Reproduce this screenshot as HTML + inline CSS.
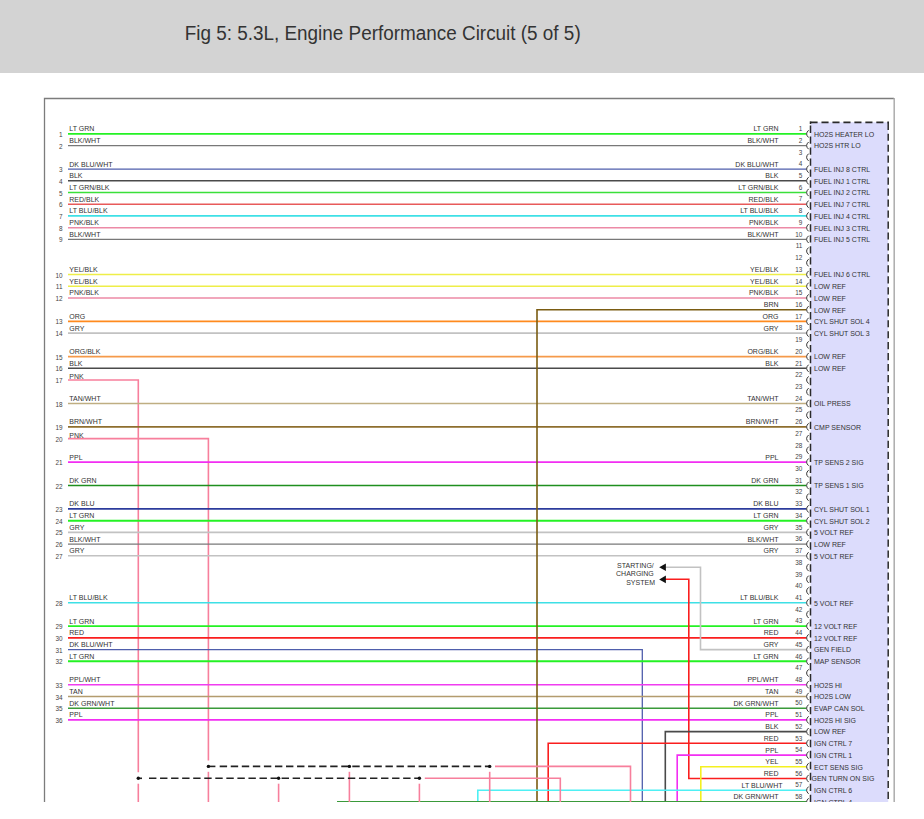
<!DOCTYPE html>
<html><head><meta charset="utf-8">
<style>
html,body{margin:0;padding:0;background:#fff;width:924px;height:819px;overflow:hidden;}
.hdr{position:absolute;left:0;top:0;width:924px;height:73px;background:#d3d3d3;}
.ttl{position:absolute;left:186px;top:20px;font-family:"Liberation Sans",sans-serif;font-size:18.8px;color:#333;white-space:nowrap;}
svg{position:absolute;left:0;top:0;}
svg text{font-family:"Liberation Sans",sans-serif;}
</style></head>
<body>
<div class="hdr"></div>
<svg width="924" height="819" viewBox="0 0 924 819">
<defs><clipPath id="cp"><rect x="0" y="0" width="924" height="802"/></clipPath></defs>
<text x="184.7" y="39.9" font-size="20" fill="#333" textLength="396" lengthAdjust="spacingAndGlyphs">Fig 5: 5.3L, Engine Performance Circuit (5 of 5)</text>
<g clip-path="url(#cp)">
<path d="M44.5,802 V98.5 H894" fill="none" stroke="#7c7c7c" stroke-width="1.3"/>
<line x1="894.2" y1="97.9" x2="894.2" y2="802" stroke="#acacac" stroke-width="1.5"/>
<rect x="810.5" y="122.3" width="77.7" height="700" fill="#dcdcfc"/>
<line x1="810.5" y1="122.3" x2="889" y2="122.3" stroke="#2a2a2a" stroke-width="1.7" stroke-dasharray="7.1,3.87"/>
<line x1="888.2" y1="122.7" x2="888.2" y2="810" stroke="#2a2a2a" stroke-width="1.5" stroke-dasharray="7.2,3.77"/>
<line x1="810.5" y1="125.5" x2="810.5" y2="810" stroke="#2a2a2a" stroke-width="1.5" stroke-dasharray="7.4,3.57"/>
<line x1="810.5" y1="121.4" x2="810.5" y2="124" stroke="#2a2a2a" stroke-width="1.5"/>
<line x1="68.0" y1="133.9" x2="806.3" y2="133.9" stroke="#24f224" stroke-width="1.9"/>
<text x="62.5" y="136.9" text-anchor="end" font-size="6.4" fill="#444">1</text>
<text x="69.3" y="131.3" text-anchor="start" font-size="7" fill="#333">LT GRN</text>
<line x1="68.0" y1="145.6" x2="806.3" y2="145.6" stroke="#787878" stroke-width="1.4"/>
<text x="62.5" y="148.6" text-anchor="end" font-size="6.4" fill="#444">2</text>
<text x="69.3" y="143.0" text-anchor="start" font-size="7" fill="#333">BLK/WHT</text>
<line x1="68.0" y1="169.1" x2="806.3" y2="169.1" stroke="#4f5eac" stroke-width="1.3"/>
<text x="62.5" y="172.1" text-anchor="end" font-size="6.4" fill="#444">3</text>
<text x="69.3" y="166.5" text-anchor="start" font-size="7" fill="#333">DK BLU/WHT</text>
<line x1="68.0" y1="180.8" x2="806.3" y2="180.8" stroke="#4a4a4a" stroke-width="1.5"/>
<text x="62.5" y="183.8" text-anchor="end" font-size="6.4" fill="#444">4</text>
<text x="69.3" y="178.2" text-anchor="start" font-size="7" fill="#333">BLK</text>
<line x1="68.0" y1="192.5" x2="806.3" y2="192.5" stroke="#3ae03a" stroke-width="1.6"/>
<text x="62.5" y="195.5" text-anchor="end" font-size="6.4" fill="#444">5</text>
<text x="69.3" y="189.9" text-anchor="start" font-size="7" fill="#333">LT GRN/BLK</text>
<line x1="68.0" y1="204.2" x2="806.3" y2="204.2" stroke="#e85a5a" stroke-width="1.6"/>
<text x="62.5" y="207.2" text-anchor="end" font-size="6.4" fill="#444">6</text>
<text x="69.3" y="201.6" text-anchor="start" font-size="7" fill="#333">RED/BLK</text>
<line x1="68.0" y1="215.9" x2="806.3" y2="215.9" stroke="#3ee0e6" stroke-width="1.6"/>
<text x="62.5" y="218.9" text-anchor="end" font-size="6.4" fill="#444">7</text>
<text x="69.3" y="213.3" text-anchor="start" font-size="7" fill="#333">LT BLU/BLK</text>
<line x1="68.0" y1="227.7" x2="806.3" y2="227.7" stroke="#ec8aa6" stroke-width="1.6"/>
<text x="62.5" y="230.7" text-anchor="end" font-size="6.4" fill="#444">8</text>
<text x="69.3" y="225.1" text-anchor="start" font-size="7" fill="#333">PNK/BLK</text>
<line x1="68.0" y1="239.4" x2="806.3" y2="239.4" stroke="#787878" stroke-width="1.4"/>
<text x="62.5" y="242.4" text-anchor="end" font-size="6.4" fill="#444">9</text>
<text x="69.3" y="236.8" text-anchor="start" font-size="7" fill="#333">BLK/WHT</text>
<line x1="68.0" y1="274.5" x2="806.3" y2="274.5" stroke="#eeee48" stroke-width="1.6"/>
<text x="62.5" y="277.5" text-anchor="end" font-size="6.4" fill="#444">10</text>
<text x="69.3" y="271.9" text-anchor="start" font-size="7" fill="#333">YEL/BLK</text>
<line x1="68.0" y1="286.3" x2="806.3" y2="286.3" stroke="#eeee48" stroke-width="1.6"/>
<text x="62.5" y="289.3" text-anchor="end" font-size="6.4" fill="#444">11</text>
<text x="69.3" y="283.7" text-anchor="start" font-size="7" fill="#333">YEL/BLK</text>
<line x1="68.0" y1="298.0" x2="806.3" y2="298.0" stroke="#ec8aa6" stroke-width="1.6"/>
<text x="62.5" y="301.0" text-anchor="end" font-size="6.4" fill="#444">12</text>
<text x="69.3" y="295.4" text-anchor="start" font-size="7" fill="#333">PNK/BLK</text>
<line x1="68.0" y1="321.4" x2="806.3" y2="321.4" stroke="#ff8a1e" stroke-width="1.6"/>
<text x="62.5" y="324.4" text-anchor="end" font-size="6.4" fill="#444">13</text>
<text x="69.3" y="318.8" text-anchor="start" font-size="7" fill="#333">ORG</text>
<line x1="68.0" y1="333.1" x2="806.3" y2="333.1" stroke="#c2c2c2" stroke-width="1.6"/>
<text x="62.5" y="336.1" text-anchor="end" font-size="6.4" fill="#444">14</text>
<text x="69.3" y="330.5" text-anchor="start" font-size="7" fill="#333">GRY</text>
<line x1="68.0" y1="356.6" x2="806.3" y2="356.6" stroke="#f59a4a" stroke-width="1.6"/>
<text x="62.5" y="359.6" text-anchor="end" font-size="6.4" fill="#444">15</text>
<text x="69.3" y="354.0" text-anchor="start" font-size="7" fill="#333">ORG/BLK</text>
<line x1="68.0" y1="368.3" x2="806.3" y2="368.3" stroke="#4a4a4a" stroke-width="1.5"/>
<text x="62.5" y="371.3" text-anchor="end" font-size="6.4" fill="#444">16</text>
<text x="69.3" y="365.7" text-anchor="start" font-size="7" fill="#333">BLK</text>
<polyline points="68.0,380.0 138.3,380.0 138.3,772.3" fill="none" stroke="#f77f9c" stroke-width="1.6" />
<line x1="138.3" y1="783.7" x2="138.3" y2="802.0" stroke="#f77f9c" stroke-width="1.6"/>
<text x="62.5" y="383.0" text-anchor="end" font-size="6.4" fill="#444">17</text>
<text x="69.3" y="379.2" text-anchor="start" font-size="7" fill="#333">PNK</text>
<line x1="68.0" y1="403.5" x2="806.3" y2="403.5" stroke="#bfae82" stroke-width="1.6"/>
<text x="62.5" y="406.5" text-anchor="end" font-size="6.4" fill="#444">18</text>
<text x="69.3" y="400.9" text-anchor="start" font-size="7" fill="#333">TAN/WHT</text>
<line x1="68.0" y1="426.9" x2="806.3" y2="426.9" stroke="#8e6e2e" stroke-width="1.6"/>
<text x="62.5" y="429.9" text-anchor="end" font-size="6.4" fill="#444">19</text>
<text x="69.3" y="424.3" text-anchor="start" font-size="7" fill="#333">BRN/WHT</text>
<polyline points="68.0,438.6 208.4,438.6 208.4,760.4" fill="none" stroke="#f77f9c" stroke-width="1.6" />
<line x1="208.4" y1="771.8" x2="208.4" y2="802.0" stroke="#f77f9c" stroke-width="1.6"/>
<text x="62.5" y="441.6" text-anchor="end" font-size="6.4" fill="#444">20</text>
<text x="69.3" y="437.8" text-anchor="start" font-size="7" fill="#333">PNK</text>
<line x1="68.0" y1="462.1" x2="806.3" y2="462.1" stroke="#f22ef2" stroke-width="1.9"/>
<text x="62.5" y="465.1" text-anchor="end" font-size="6.4" fill="#444">21</text>
<text x="69.3" y="459.5" text-anchor="start" font-size="7" fill="#333">PPL</text>
<line x1="68.0" y1="485.5" x2="806.3" y2="485.5" stroke="#1f8f1f" stroke-width="1.6"/>
<text x="62.5" y="488.5" text-anchor="end" font-size="6.4" fill="#444">22</text>
<text x="69.3" y="482.9" text-anchor="start" font-size="7" fill="#333">DK GRN</text>
<line x1="68.0" y1="508.9" x2="806.3" y2="508.9" stroke="#2c3c9c" stroke-width="1.6"/>
<text x="62.5" y="511.9" text-anchor="end" font-size="6.4" fill="#444">23</text>
<text x="69.3" y="506.3" text-anchor="start" font-size="7" fill="#333">DK BLU</text>
<line x1="68.0" y1="520.7" x2="806.3" y2="520.7" stroke="#24f224" stroke-width="1.9"/>
<text x="62.5" y="523.7" text-anchor="end" font-size="6.4" fill="#444">24</text>
<text x="69.3" y="518.1" text-anchor="start" font-size="7" fill="#333">LT GRN</text>
<line x1="68.0" y1="532.4" x2="806.3" y2="532.4" stroke="#c2c2c2" stroke-width="1.6"/>
<text x="62.5" y="535.4" text-anchor="end" font-size="6.4" fill="#444">25</text>
<text x="69.3" y="529.8" text-anchor="start" font-size="7" fill="#333">GRY</text>
<line x1="68.0" y1="544.1" x2="806.3" y2="544.1" stroke="#787878" stroke-width="1.4"/>
<text x="62.5" y="547.1" text-anchor="end" font-size="6.4" fill="#444">26</text>
<text x="69.3" y="541.5" text-anchor="start" font-size="7" fill="#333">BLK/WHT</text>
<line x1="68.0" y1="555.8" x2="806.3" y2="555.8" stroke="#c2c2c2" stroke-width="1.6"/>
<text x="62.5" y="558.8" text-anchor="end" font-size="6.4" fill="#444">27</text>
<text x="69.3" y="553.2" text-anchor="start" font-size="7" fill="#333">GRY</text>
<line x1="68.0" y1="602.7" x2="806.3" y2="602.7" stroke="#3ee0e6" stroke-width="1.6"/>
<text x="62.5" y="605.7" text-anchor="end" font-size="6.4" fill="#444">28</text>
<text x="69.3" y="600.1" text-anchor="start" font-size="7" fill="#333">LT BLU/BLK</text>
<line x1="68.0" y1="626.1" x2="806.3" y2="626.1" stroke="#24f224" stroke-width="1.9"/>
<text x="62.5" y="629.1" text-anchor="end" font-size="6.4" fill="#444">29</text>
<text x="69.3" y="623.5" text-anchor="start" font-size="7" fill="#333">LT GRN</text>
<line x1="68.0" y1="637.9" x2="806.3" y2="637.9" stroke="#fa1e1e" stroke-width="1.6"/>
<text x="62.5" y="640.9" text-anchor="end" font-size="6.4" fill="#444">30</text>
<text x="69.3" y="635.3" text-anchor="start" font-size="7" fill="#333">RED</text>
<polyline points="68.0,649.6 642.3,649.6 642.3,802.0" fill="none" stroke="#4f5eac" stroke-width="1.3" />
<text x="62.5" y="652.6" text-anchor="end" font-size="6.4" fill="#444">31</text>
<text x="69.3" y="647.0" text-anchor="start" font-size="7" fill="#333">DK BLU/WHT</text>
<line x1="68.0" y1="661.3" x2="806.3" y2="661.3" stroke="#24f224" stroke-width="1.9"/>
<text x="62.5" y="664.3" text-anchor="end" font-size="6.4" fill="#444">32</text>
<text x="69.3" y="658.7" text-anchor="start" font-size="7" fill="#333">LT GRN</text>
<line x1="68.0" y1="684.7" x2="806.3" y2="684.7" stroke="#f03cf0" stroke-width="1.6"/>
<text x="62.5" y="687.7" text-anchor="end" font-size="6.4" fill="#444">33</text>
<text x="69.3" y="682.1" text-anchor="start" font-size="7" fill="#333">PPL/WHT</text>
<line x1="68.0" y1="696.5" x2="806.3" y2="696.5" stroke="#b39c6e" stroke-width="1.6"/>
<text x="62.5" y="699.5" text-anchor="end" font-size="6.4" fill="#444">34</text>
<text x="69.3" y="693.9" text-anchor="start" font-size="7" fill="#333">TAN</text>
<line x1="68.0" y1="708.2" x2="806.3" y2="708.2" stroke="#3a9a3a" stroke-width="1.6"/>
<text x="62.5" y="711.2" text-anchor="end" font-size="6.4" fill="#444">35</text>
<text x="69.3" y="705.6" text-anchor="start" font-size="7" fill="#333">DK GRN/WHT</text>
<line x1="68.0" y1="719.9" x2="806.3" y2="719.9" stroke="#f22ef2" stroke-width="1.9"/>
<text x="62.5" y="722.9" text-anchor="end" font-size="6.4" fill="#444">36</text>
<text x="69.3" y="717.3" text-anchor="start" font-size="7" fill="#333">PPL</text>
<polyline points="537.0,802.0 537.0,309.7 806.3,309.7" fill="none" stroke="#7a5c12" stroke-width="1.6" />
<polyline points="665.0,567.3 700.5,567.3 700.5,649.6 806.3,649.6" fill="none" stroke="#c2c2c2" stroke-width="1.6" />
<polyline points="665.0,579.2 688.8,579.2 688.8,778.5 806.3,778.5" fill="none" stroke="#fa1e1e" stroke-width="1.6" />
<polyline points="665.3,802.0 665.3,731.6 806.3,731.6" fill="none" stroke="#4a4a4a" stroke-width="1.6" />
<polyline points="548.2,802.0 548.2,743.3 806.3,743.3" fill="none" stroke="#fa1e1e" stroke-width="1.6" />
<polyline points="677.2,802.0 677.2,755.1 806.3,755.1" fill="none" stroke="#f22ef2" stroke-width="1.6" />
<polyline points="700.8,802.0 700.8,766.8 806.3,766.8" fill="none" stroke="#f4f020" stroke-width="1.6" />
<polyline points="477.8,802.0 477.8,790.2 806.3,790.2" fill="none" stroke="#4ef0f4" stroke-width="1.6" />
<line x1="337.0" y1="801.9" x2="806.3" y2="801.9" stroke="#3a9a3a" stroke-width="1.6"/>
<path d="M659.2,567.3 L665.9,563.5 L665.9,571.1 Z" fill="#111"/>
<path d="M659.2,579.4 L665.9,575.6 L665.9,583.2 Z" fill="#111"/>
<text x="653.8" y="567.8" text-anchor="end" font-size="7" fill="#333">STARTING/</text>
<text x="653.8" y="575.8" text-anchor="end" font-size="7" fill="#333">CHARGING</text>
<text x="655.0" y="584.7" text-anchor="end" font-size="7" fill="#333">SYSTEM</text>
<line x1="349.4" y1="771.8" x2="349.4" y2="802.0" stroke="#f77f9c" stroke-width="1.6"/>
<line x1="489.7" y1="771.8" x2="489.7" y2="802.0" stroke="#f77f9c" stroke-width="1.6"/>
<line x1="278.6" y1="783.7" x2="278.6" y2="802.0" stroke="#f77f9c" stroke-width="1.6"/>
<line x1="419.4" y1="783.7" x2="419.4" y2="802.0" stroke="#f77f9c" stroke-width="1.6"/>
<polyline points="495.0,766.4 630.5,766.4 630.5,802.0" fill="none" stroke="#f77f9c" stroke-width="1.6" />
<polyline points="424.8,778.3 560.3,778.3 560.3,802.0" fill="none" stroke="#f77f9c" stroke-width="1.6" />
<line x1="219.7" y1="766.4" x2="489.7" y2="766.4" stroke="#222" stroke-width="1.6" stroke-dasharray="7.4,3.65"/>
<line x1="208.4" y1="766.4" x2="215.4" y2="766.4" stroke="#222" stroke-width="1.6"/>
<line x1="149" y1="778.3" x2="419.4" y2="778.3" stroke="#222" stroke-width="1.6" stroke-dasharray="7.4,3.65"/>
<line x1="138.3" y1="778.3" x2="142" y2="778.3" stroke="#222" stroke-width="1.6"/>
<circle cx="208.4" cy="766.4" r="1.7" fill="#111"/>
<circle cx="349.4" cy="766.4" r="1.7" fill="#111"/>
<circle cx="489.7" cy="766.4" r="1.7" fill="#111"/>
<circle cx="138.3" cy="778.3" r="1.7" fill="#111"/>
<circle cx="278.6" cy="778.3" r="1.7" fill="#111"/>
<circle cx="419.4" cy="778.3" r="1.7" fill="#111"/>
<text x="802.3" y="131.1" text-anchor="end" font-size="6.4" fill="#444">1</text>
<path d="M808.6,130.3 Q804.6,133.9 808.6,137.5" fill="none" stroke="#333" stroke-width="1"/>
<text x="778.5" y="131.3" text-anchor="end" font-size="7" fill="#333">LT GRN</text>
<text x="814.0" y="136.7" text-anchor="start" font-size="7" fill="#333">HO2S HEATER LO</text>
<text x="802.3" y="142.8" text-anchor="end" font-size="6.4" fill="#444">2</text>
<path d="M808.6,142.0 Q804.6,145.6 808.6,149.2" fill="none" stroke="#333" stroke-width="1"/>
<text x="778.5" y="143.0" text-anchor="end" font-size="7" fill="#333">BLK/WHT</text>
<text x="814.0" y="148.4" text-anchor="start" font-size="7" fill="#333">HO2S HTR LO</text>
<text x="802.3" y="154.5" text-anchor="end" font-size="6.4" fill="#444">3</text>
<path d="M808.6,153.7 Q804.6,157.3 808.6,160.9" fill="none" stroke="#333" stroke-width="1"/>
<text x="802.3" y="166.3" text-anchor="end" font-size="6.4" fill="#444">4</text>
<path d="M808.6,165.5 Q804.6,169.1 808.6,172.7" fill="none" stroke="#333" stroke-width="1"/>
<text x="778.5" y="166.5" text-anchor="end" font-size="7" fill="#333">DK BLU/WHT</text>
<text x="814.0" y="171.9" text-anchor="start" font-size="7" fill="#333">FUEL INJ 8 CTRL</text>
<text x="802.3" y="178.0" text-anchor="end" font-size="6.4" fill="#444">5</text>
<path d="M808.6,177.2 Q804.6,180.8 808.6,184.4" fill="none" stroke="#333" stroke-width="1"/>
<text x="778.5" y="178.2" text-anchor="end" font-size="7" fill="#333">BLK</text>
<text x="814.0" y="183.6" text-anchor="start" font-size="7" fill="#333">FUEL INJ 1 CTRL</text>
<text x="802.3" y="189.7" text-anchor="end" font-size="6.4" fill="#444">6</text>
<path d="M808.6,188.9 Q804.6,192.5 808.6,196.1" fill="none" stroke="#333" stroke-width="1"/>
<text x="778.5" y="189.9" text-anchor="end" font-size="7" fill="#333">LT GRN/BLK</text>
<text x="814.0" y="195.3" text-anchor="start" font-size="7" fill="#333">FUEL INJ 2 CTRL</text>
<text x="802.3" y="201.4" text-anchor="end" font-size="6.4" fill="#444">7</text>
<path d="M808.6,200.6 Q804.6,204.2 808.6,207.8" fill="none" stroke="#333" stroke-width="1"/>
<text x="778.5" y="201.6" text-anchor="end" font-size="7" fill="#333">RED/BLK</text>
<text x="814.0" y="207.0" text-anchor="start" font-size="7" fill="#333">FUEL INJ 7 CTRL</text>
<text x="802.3" y="213.1" text-anchor="end" font-size="6.4" fill="#444">8</text>
<path d="M808.6,212.3 Q804.6,215.9 808.6,219.5" fill="none" stroke="#333" stroke-width="1"/>
<text x="778.5" y="213.3" text-anchor="end" font-size="7" fill="#333">LT BLU/BLK</text>
<text x="814.0" y="218.7" text-anchor="start" font-size="7" fill="#333">FUEL INJ 4 CTRL</text>
<text x="802.3" y="224.9" text-anchor="end" font-size="6.4" fill="#444">9</text>
<path d="M808.6,224.1 Q804.6,227.7 808.6,231.3" fill="none" stroke="#333" stroke-width="1"/>
<text x="778.5" y="225.1" text-anchor="end" font-size="7" fill="#333">PNK/BLK</text>
<text x="814.0" y="230.5" text-anchor="start" font-size="7" fill="#333">FUEL INJ 3 CTRL</text>
<text x="802.3" y="236.6" text-anchor="end" font-size="6.4" fill="#444">10</text>
<path d="M808.6,235.8 Q804.6,239.4 808.6,243.0" fill="none" stroke="#333" stroke-width="1"/>
<text x="778.5" y="236.8" text-anchor="end" font-size="7" fill="#333">BLK/WHT</text>
<text x="814.0" y="242.2" text-anchor="start" font-size="7" fill="#333">FUEL INJ 5 CTRL</text>
<text x="802.3" y="248.3" text-anchor="end" font-size="6.4" fill="#444">11</text>
<path d="M808.6,247.5 Q804.6,251.1 808.6,254.7" fill="none" stroke="#333" stroke-width="1"/>
<text x="802.3" y="260.0" text-anchor="end" font-size="6.4" fill="#444">12</text>
<path d="M808.6,259.2 Q804.6,262.8 808.6,266.4" fill="none" stroke="#333" stroke-width="1"/>
<text x="802.3" y="271.7" text-anchor="end" font-size="6.4" fill="#444">13</text>
<path d="M808.6,270.9 Q804.6,274.5 808.6,278.1" fill="none" stroke="#333" stroke-width="1"/>
<text x="778.5" y="271.9" text-anchor="end" font-size="7" fill="#333">YEL/BLK</text>
<text x="814.0" y="277.3" text-anchor="start" font-size="7" fill="#333">FUEL INJ 6 CTRL</text>
<text x="802.3" y="283.5" text-anchor="end" font-size="6.4" fill="#444">14</text>
<path d="M808.6,282.7 Q804.6,286.3 808.6,289.9" fill="none" stroke="#333" stroke-width="1"/>
<text x="778.5" y="283.7" text-anchor="end" font-size="7" fill="#333">YEL/BLK</text>
<text x="814.0" y="289.1" text-anchor="start" font-size="7" fill="#333">LOW REF</text>
<text x="802.3" y="295.2" text-anchor="end" font-size="6.4" fill="#444">15</text>
<path d="M808.6,294.4 Q804.6,298.0 808.6,301.6" fill="none" stroke="#333" stroke-width="1"/>
<text x="778.5" y="295.4" text-anchor="end" font-size="7" fill="#333">PNK/BLK</text>
<text x="814.0" y="300.8" text-anchor="start" font-size="7" fill="#333">LOW REF</text>
<text x="802.3" y="306.9" text-anchor="end" font-size="6.4" fill="#444">16</text>
<path d="M808.6,306.1 Q804.6,309.7 808.6,313.3" fill="none" stroke="#333" stroke-width="1"/>
<text x="778.5" y="307.1" text-anchor="end" font-size="7" fill="#333">BRN</text>
<text x="814.0" y="312.5" text-anchor="start" font-size="7" fill="#333">LOW REF</text>
<text x="802.3" y="318.6" text-anchor="end" font-size="6.4" fill="#444">17</text>
<path d="M808.6,317.8 Q804.6,321.4 808.6,325.0" fill="none" stroke="#333" stroke-width="1"/>
<text x="778.5" y="318.8" text-anchor="end" font-size="7" fill="#333">ORG</text>
<text x="814.0" y="324.2" text-anchor="start" font-size="7" fill="#333">CYL SHUT SOL 4</text>
<text x="802.3" y="330.3" text-anchor="end" font-size="6.4" fill="#444">18</text>
<path d="M808.6,329.5 Q804.6,333.1 808.6,336.7" fill="none" stroke="#333" stroke-width="1"/>
<text x="778.5" y="330.5" text-anchor="end" font-size="7" fill="#333">GRY</text>
<text x="814.0" y="335.9" text-anchor="start" font-size="7" fill="#333">CYL SHUT SOL 3</text>
<text x="802.3" y="342.1" text-anchor="end" font-size="6.4" fill="#444">19</text>
<path d="M808.6,341.3 Q804.6,344.9 808.6,348.5" fill="none" stroke="#333" stroke-width="1"/>
<text x="802.3" y="353.8" text-anchor="end" font-size="6.4" fill="#444">20</text>
<path d="M808.6,353.0 Q804.6,356.6 808.6,360.2" fill="none" stroke="#333" stroke-width="1"/>
<text x="778.5" y="354.0" text-anchor="end" font-size="7" fill="#333">ORG/BLK</text>
<text x="814.0" y="359.4" text-anchor="start" font-size="7" fill="#333">LOW REF</text>
<text x="802.3" y="365.5" text-anchor="end" font-size="6.4" fill="#444">21</text>
<path d="M808.6,364.7 Q804.6,368.3 808.6,371.9" fill="none" stroke="#333" stroke-width="1"/>
<text x="778.5" y="365.7" text-anchor="end" font-size="7" fill="#333">BLK</text>
<text x="814.0" y="371.1" text-anchor="start" font-size="7" fill="#333">LOW REF</text>
<text x="802.3" y="377.2" text-anchor="end" font-size="6.4" fill="#444">22</text>
<path d="M808.6,376.4 Q804.6,380.0 808.6,383.6" fill="none" stroke="#333" stroke-width="1"/>
<text x="802.3" y="388.9" text-anchor="end" font-size="6.4" fill="#444">23</text>
<path d="M808.6,388.1 Q804.6,391.7 808.6,395.3" fill="none" stroke="#333" stroke-width="1"/>
<text x="802.3" y="400.7" text-anchor="end" font-size="6.4" fill="#444">24</text>
<path d="M808.6,399.9 Q804.6,403.5 808.6,407.1" fill="none" stroke="#333" stroke-width="1"/>
<text x="778.5" y="400.9" text-anchor="end" font-size="7" fill="#333">TAN/WHT</text>
<text x="814.0" y="406.3" text-anchor="start" font-size="7" fill="#333">OIL PRESS</text>
<text x="802.3" y="412.4" text-anchor="end" font-size="6.4" fill="#444">25</text>
<path d="M808.6,411.6 Q804.6,415.2 808.6,418.8" fill="none" stroke="#333" stroke-width="1"/>
<text x="802.3" y="424.1" text-anchor="end" font-size="6.4" fill="#444">26</text>
<path d="M808.6,423.3 Q804.6,426.9 808.6,430.5" fill="none" stroke="#333" stroke-width="1"/>
<text x="778.5" y="424.3" text-anchor="end" font-size="7" fill="#333">BRN/WHT</text>
<text x="814.0" y="429.7" text-anchor="start" font-size="7" fill="#333">CMP SENSOR</text>
<text x="802.3" y="435.8" text-anchor="end" font-size="6.4" fill="#444">27</text>
<path d="M808.6,435.0 Q804.6,438.6 808.6,442.2" fill="none" stroke="#333" stroke-width="1"/>
<text x="802.3" y="447.5" text-anchor="end" font-size="6.4" fill="#444">28</text>
<path d="M808.6,446.7 Q804.6,450.3 808.6,453.9" fill="none" stroke="#333" stroke-width="1"/>
<text x="802.3" y="459.3" text-anchor="end" font-size="6.4" fill="#444">29</text>
<path d="M808.6,458.5 Q804.6,462.1 808.6,465.7" fill="none" stroke="#333" stroke-width="1"/>
<text x="778.5" y="459.5" text-anchor="end" font-size="7" fill="#333">PPL</text>
<text x="814.0" y="464.9" text-anchor="start" font-size="7" fill="#333">TP SENS 2 SIG</text>
<text x="802.3" y="471.0" text-anchor="end" font-size="6.4" fill="#444">30</text>
<path d="M808.6,470.2 Q804.6,473.8 808.6,477.4" fill="none" stroke="#333" stroke-width="1"/>
<text x="802.3" y="482.7" text-anchor="end" font-size="6.4" fill="#444">31</text>
<path d="M808.6,481.9 Q804.6,485.5 808.6,489.1" fill="none" stroke="#333" stroke-width="1"/>
<text x="778.5" y="482.9" text-anchor="end" font-size="7" fill="#333">DK GRN</text>
<text x="814.0" y="488.3" text-anchor="start" font-size="7" fill="#333">TP SENS 1 SIG</text>
<text x="802.3" y="494.4" text-anchor="end" font-size="6.4" fill="#444">32</text>
<path d="M808.6,493.6 Q804.6,497.2 808.6,500.8" fill="none" stroke="#333" stroke-width="1"/>
<text x="802.3" y="506.1" text-anchor="end" font-size="6.4" fill="#444">33</text>
<path d="M808.6,505.3 Q804.6,508.9 808.6,512.5" fill="none" stroke="#333" stroke-width="1"/>
<text x="778.5" y="506.3" text-anchor="end" font-size="7" fill="#333">DK BLU</text>
<text x="814.0" y="511.7" text-anchor="start" font-size="7" fill="#333">CYL SHUT SOL 1</text>
<text x="802.3" y="517.9" text-anchor="end" font-size="6.4" fill="#444">34</text>
<path d="M808.6,517.1 Q804.6,520.7 808.6,524.3" fill="none" stroke="#333" stroke-width="1"/>
<text x="778.5" y="518.1" text-anchor="end" font-size="7" fill="#333">LT GRN</text>
<text x="814.0" y="523.5" text-anchor="start" font-size="7" fill="#333">CYL SHUT SOL 2</text>
<text x="802.3" y="529.6" text-anchor="end" font-size="6.4" fill="#444">35</text>
<path d="M808.6,528.8 Q804.6,532.4 808.6,536.0" fill="none" stroke="#333" stroke-width="1"/>
<text x="778.5" y="529.8" text-anchor="end" font-size="7" fill="#333">GRY</text>
<text x="814.0" y="535.2" text-anchor="start" font-size="7" fill="#333">5 VOLT REF</text>
<text x="802.3" y="541.3" text-anchor="end" font-size="6.4" fill="#444">36</text>
<path d="M808.6,540.5 Q804.6,544.1 808.6,547.7" fill="none" stroke="#333" stroke-width="1"/>
<text x="778.5" y="541.5" text-anchor="end" font-size="7" fill="#333">BLK/WHT</text>
<text x="814.0" y="546.9" text-anchor="start" font-size="7" fill="#333">LOW REF</text>
<text x="802.3" y="553.0" text-anchor="end" font-size="6.4" fill="#444">37</text>
<path d="M808.6,552.2 Q804.6,555.8 808.6,559.4" fill="none" stroke="#333" stroke-width="1"/>
<text x="778.5" y="553.2" text-anchor="end" font-size="7" fill="#333">GRY</text>
<text x="814.0" y="558.6" text-anchor="start" font-size="7" fill="#333">5 VOLT REF</text>
<text x="802.3" y="564.7" text-anchor="end" font-size="6.4" fill="#444">38</text>
<path d="M808.6,563.9 Q804.6,567.5 808.6,571.1" fill="none" stroke="#333" stroke-width="1"/>
<text x="802.3" y="576.5" text-anchor="end" font-size="6.4" fill="#444">39</text>
<path d="M808.6,575.7 Q804.6,579.3 808.6,582.9" fill="none" stroke="#333" stroke-width="1"/>
<text x="802.3" y="588.2" text-anchor="end" font-size="6.4" fill="#444">40</text>
<path d="M808.6,587.4 Q804.6,591.0 808.6,594.6" fill="none" stroke="#333" stroke-width="1"/>
<text x="802.3" y="599.9" text-anchor="end" font-size="6.4" fill="#444">41</text>
<path d="M808.6,599.1 Q804.6,602.7 808.6,606.3" fill="none" stroke="#333" stroke-width="1"/>
<text x="778.5" y="600.1" text-anchor="end" font-size="7" fill="#333">LT BLU/BLK</text>
<text x="814.0" y="605.5" text-anchor="start" font-size="7" fill="#333">5 VOLT REF</text>
<text x="802.3" y="611.6" text-anchor="end" font-size="6.4" fill="#444">42</text>
<path d="M808.6,610.8 Q804.6,614.4 808.6,618.0" fill="none" stroke="#333" stroke-width="1"/>
<text x="802.3" y="623.3" text-anchor="end" font-size="6.4" fill="#444">43</text>
<path d="M808.6,622.5 Q804.6,626.1 808.6,629.7" fill="none" stroke="#333" stroke-width="1"/>
<text x="778.5" y="623.5" text-anchor="end" font-size="7" fill="#333">LT GRN</text>
<text x="814.0" y="628.9" text-anchor="start" font-size="7" fill="#333">12 VOLT REF</text>
<text x="802.3" y="635.1" text-anchor="end" font-size="6.4" fill="#444">44</text>
<path d="M808.6,634.3 Q804.6,637.9 808.6,641.5" fill="none" stroke="#333" stroke-width="1"/>
<text x="778.5" y="635.3" text-anchor="end" font-size="7" fill="#333">RED</text>
<text x="814.0" y="640.7" text-anchor="start" font-size="7" fill="#333">12 VOLT REF</text>
<text x="802.3" y="646.8" text-anchor="end" font-size="6.4" fill="#444">45</text>
<path d="M808.6,646.0 Q804.6,649.6 808.6,653.2" fill="none" stroke="#333" stroke-width="1"/>
<text x="778.5" y="647.0" text-anchor="end" font-size="7" fill="#333">GRY</text>
<text x="814.0" y="652.4" text-anchor="start" font-size="7" fill="#333">GEN FIELD</text>
<text x="802.3" y="658.5" text-anchor="end" font-size="6.4" fill="#444">46</text>
<path d="M808.6,657.7 Q804.6,661.3 808.6,664.9" fill="none" stroke="#333" stroke-width="1"/>
<text x="778.5" y="658.7" text-anchor="end" font-size="7" fill="#333">LT GRN</text>
<text x="814.0" y="664.1" text-anchor="start" font-size="7" fill="#333">MAP SENSOR</text>
<text x="802.3" y="670.2" text-anchor="end" font-size="6.4" fill="#444">47</text>
<path d="M808.6,669.4 Q804.6,673.0 808.6,676.6" fill="none" stroke="#333" stroke-width="1"/>
<text x="802.3" y="681.9" text-anchor="end" font-size="6.4" fill="#444">48</text>
<path d="M808.6,681.1 Q804.6,684.7 808.6,688.3" fill="none" stroke="#333" stroke-width="1"/>
<text x="778.5" y="682.1" text-anchor="end" font-size="7" fill="#333">PPL/WHT</text>
<text x="814.0" y="687.5" text-anchor="start" font-size="7" fill="#333">HO2S HI</text>
<text x="802.3" y="693.7" text-anchor="end" font-size="6.4" fill="#444">49</text>
<path d="M808.6,692.9 Q804.6,696.5 808.6,700.1" fill="none" stroke="#333" stroke-width="1"/>
<text x="778.5" y="693.9" text-anchor="end" font-size="7" fill="#333">TAN</text>
<text x="814.0" y="699.3" text-anchor="start" font-size="7" fill="#333">HO2S LOW</text>
<text x="802.3" y="705.4" text-anchor="end" font-size="6.4" fill="#444">50</text>
<path d="M808.6,704.6 Q804.6,708.2 808.6,711.8" fill="none" stroke="#333" stroke-width="1"/>
<text x="778.5" y="705.6" text-anchor="end" font-size="7" fill="#333">DK GRN/WHT</text>
<text x="814.0" y="711.0" text-anchor="start" font-size="7" fill="#333">EVAP CAN SOL</text>
<text x="802.3" y="717.1" text-anchor="end" font-size="6.4" fill="#444">51</text>
<path d="M808.6,716.3 Q804.6,719.9 808.6,723.5" fill="none" stroke="#333" stroke-width="1"/>
<text x="778.5" y="717.3" text-anchor="end" font-size="7" fill="#333">PPL</text>
<text x="814.0" y="722.7" text-anchor="start" font-size="7" fill="#333">HO2S HI SIG</text>
<text x="802.3" y="728.8" text-anchor="end" font-size="6.4" fill="#444">52</text>
<path d="M808.6,728.0 Q804.6,731.6 808.6,735.2" fill="none" stroke="#333" stroke-width="1"/>
<text x="778.5" y="729.0" text-anchor="end" font-size="7" fill="#333">BLK</text>
<text x="814.0" y="734.4" text-anchor="start" font-size="7" fill="#333">LOW REF</text>
<text x="802.3" y="740.5" text-anchor="end" font-size="6.4" fill="#444">53</text>
<path d="M808.6,739.7 Q804.6,743.3 808.6,746.9" fill="none" stroke="#333" stroke-width="1"/>
<text x="778.5" y="740.7" text-anchor="end" font-size="7" fill="#333">RED</text>
<text x="814.0" y="746.1" text-anchor="start" font-size="7" fill="#333">IGN CTRL 7</text>
<text x="802.3" y="752.3" text-anchor="end" font-size="6.4" fill="#444">54</text>
<path d="M808.6,751.5 Q804.6,755.1 808.6,758.7" fill="none" stroke="#333" stroke-width="1"/>
<text x="778.5" y="752.5" text-anchor="end" font-size="7" fill="#333">PPL</text>
<text x="814.0" y="757.9" text-anchor="start" font-size="7" fill="#333">IGN CTRL 1</text>
<text x="802.3" y="764.0" text-anchor="end" font-size="6.4" fill="#444">55</text>
<path d="M808.6,763.2 Q804.6,766.8 808.6,770.4" fill="none" stroke="#333" stroke-width="1"/>
<text x="778.5" y="764.2" text-anchor="end" font-size="7" fill="#333">YEL</text>
<text x="814.0" y="769.6" text-anchor="start" font-size="7" fill="#333">ECT SENS SIG</text>
<text x="802.3" y="775.7" text-anchor="end" font-size="6.4" fill="#444">56</text>
<path d="M808.6,774.9 Q804.6,778.5 808.6,782.1" fill="none" stroke="#333" stroke-width="1"/>
<text x="778.5" y="775.9" text-anchor="end" font-size="7" fill="#333">RED</text>
<text x="811.5" y="781.3" text-anchor="start" font-size="7" fill="#333">GEN TURN ON SIG</text>
<text x="802.3" y="787.4" text-anchor="end" font-size="6.4" fill="#444">57</text>
<path d="M808.6,786.6 Q804.6,790.2 808.6,793.8" fill="none" stroke="#333" stroke-width="1"/>
<text x="782.5" y="787.6" text-anchor="end" font-size="7" fill="#333">LT BLU/WHT</text>
<text x="814.0" y="793.0" text-anchor="start" font-size="7" fill="#333">IGN CTRL 6</text>
<text x="802.3" y="799.1" text-anchor="end" font-size="6.4" fill="#444">58</text>
<path d="M808.6,798.3 Q804.6,801.9 808.6,805.5" fill="none" stroke="#333" stroke-width="1"/>
<text x="778.5" y="799.3" text-anchor="end" font-size="7" fill="#333">DK GRN/WHT</text>
<text x="814.0" y="804.7" text-anchor="start" font-size="7" fill="#333">IGN CTRL 4</text>
</g>
</svg>
</body></html>
